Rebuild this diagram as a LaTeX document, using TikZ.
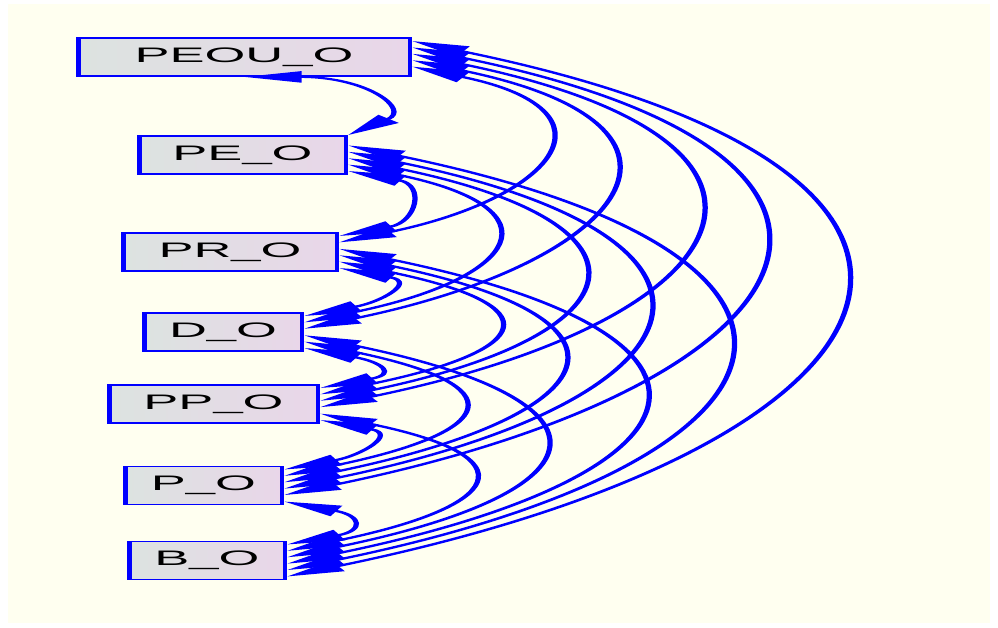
\documentclass[tikz,border=0pt]{standalone}
\usepackage{fontspec}
\setmainfont{Liberation Sans}
\usetikzlibrary{arrows.meta,calc}
\definecolor{paper}{RGB}{255,255,240}
\definecolor{boxleft}{RGB}{220,227,224}
\definecolor{boxright}{RGB}{233,214,233}
\definecolor{linkblue}{RGB}{0,0,255}
\tikzset{
  var/.style={draw=linkblue, line width=1.8pt, left color=boxleft, right color=boxright,
    minimum height=38pt, inner sep=0pt, text=black, font=\fontsize{21}{24}\selectfont},
  link/.style={draw=linkblue, line width=2.1pt,
    {Triangle[length=23pt,width=11pt]}-{Triangle[length=23pt,width=11pt]}},
}
\begin{document}
\begin{tikzpicture}[x=1pt,y=-1pt]
\useasboundingbox (0,0) rectangle (998,627);
\fill[white] (0,0) rectangle (998,627);
\fill[paper] (8,4) rectangle (990,623);
% the whole graph is drawn narrow and then stretched sideways
\begin{scope}[transform canvas={xscale=2.5}]
  \node[var, minimum width=132.6pt] (n1) at (97.6,57)  {PEOU\_O};
  \node[var, minimum width=82.6pt]  (n2) at (97.0,155) {PE\_O};
  \node[var, minimum width=85.4pt]  (n3) at (92.0,252) {PR\_O};
  \node[var, minimum width=63.0pt]  (n4) at (89.2,332) {D\_O};
  \node[var, minimum width=83.4pt]  (n5) at (85.4,404) {PP\_O};
  \node[var, minimum width=62.6pt]  (n6) at (81.4,485.5) {P\_O};
  \node[var, minimum width=62.2pt]  (n7) at (82.8,560.5) {B\_O};
  % every pair is linked; ports are spread along the east side
  \foreach \i in {1,...,6}{
    \pgfmathtruncatemacro{\ilow}{\i+1}
    \foreach \j in {\ilow,...,7}{
      \pgfmathtruncatemacro{\dist}{\j-\i}
      \pgfmathsetmacro{\offa}{-16+6.4*((\i-1)+(7-\j))}
      \pgfmathsetmacro{\offb}{-16+6.4*(\j-1-\i)}
      \pgfmathsetmacro{\reach}{\dist==1 ? 31 : 43*\dist}
      \pgfmathsetmacro{\tilt}{\dist==1 ? 14 : 22*\dist}
      \ifnum\numexpr\i*10+\j\relax=12 \else
        \draw[link] ($(n\i.east)+(0,\offa)$) .. controls +(\reach,\tilt) and +(\reach,-\tilt) .. ($(n\j.east)+(0,\offb)$);
      \fi
    }
  }
  \draw[link] (n1.south) .. controls +(50,0) and +(25,-25) .. (n2.north east);
\end{scope}
\end{tikzpicture}
\end{document}
